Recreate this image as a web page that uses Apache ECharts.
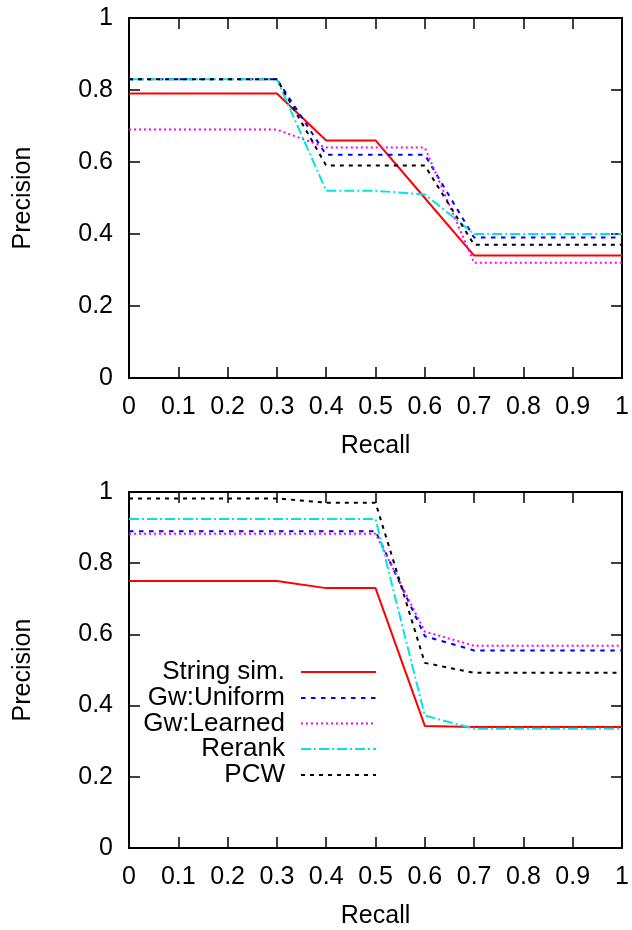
<!DOCTYPE html>
<html>
<head>
<meta charset="utf-8">
<script src="https://cdn.jsdelivr.net/npm/echarts@6/dist/echarts.min.js"></script>
<style>
  html, body { margin: 0; padding: 0; background: #fff; }
  #chart { width: 632px; height: 930px; }
</style>
</head>
<body>
<div id="chart"></div>
<script>
// Recall values shared by both panels
const recall = [0, 0.1, 0.2, 0.3, 0.4, 0.5, 0.6, 0.7, 0.8, 0.9, 1];

// Upper panel precision values
const stringSimTop = [0.79, 0.79, 0.79, 0.79, 0.66, 0.66, 0.50, 0.34, 0.34, 0.34, 0.34];
const gwUniformTop = [0.83, 0.83, 0.83, 0.83, 0.62, 0.62, 0.62, 0.39, 0.39, 0.39, 0.39];
const gwLearnedTop = [0.69, 0.69, 0.69, 0.69, 0.64, 0.64, 0.64, 0.32, 0.32, 0.32, 0.32];
const rerankTop    = [0.83, 0.83, 0.83, 0.83, 0.52, 0.52, 0.51, 0.40, 0.40, 0.40, 0.40];
const pcwTop       = [0.83, 0.83, 0.83, 0.83, 0.59, 0.59, 0.59, 0.37, 0.37, 0.37, 0.37];

// Lower panel precision values
const stringSimBottom = [0.75, 0.75, 0.75, 0.75, 0.73, 0.73, 0.343, 0.34, 0.34, 0.34, 0.34];
const gwUniformBottom = [0.89, 0.89, 0.89, 0.89, 0.89, 0.89, 0.595, 0.555, 0.555, 0.555, 0.555];
const gwLearnedBottom = [0.883, 0.883, 0.883, 0.883, 0.883, 0.883, 0.608, 0.568, 0.568, 0.568, 0.568];
const rerankBottom    = [0.924, 0.924, 0.924, 0.924, 0.924, 0.924, 0.372, 0.335, 0.335, 0.335, 0.335];
const pcwBottom       = [0.982, 0.982, 0.982, 0.982, 0.97, 0.97, 0.52, 0.492, 0.492, 0.492, 0.492];

const seriesNames = ['String sim.', 'Gw:Uniform', 'Gw:Learned', 'Rerank', 'PCW'];

const FONT = 'Liberation Sans, Arial, Helvetica, sans-serif';
const FS = 25;

const styles = [
  { color: '#ff0000', width: 2, type: 'solid' },
  { color: '#0000ff', width: 2, type: [4.5, 5.5] },
  { color: '#ff00ff', width: 2, type: [2, 3] },
  { color: '#00e5e5', width: 2, type: [10, 3, 2, 3] },
  { color: '#000000', width: 2, type: [4, 5] }
];

const grids = [
  { left: 129, top: 18, width: 494, height: 360 },
  { left: 129, top: 492, width: 494, height: 359 }
];

function pairs(ys) { return recall.map((x, i) => [x, ys[i]]); }

const tick = { show: true, inside: true, length: 11, lineStyle: { color: '#000', width: 1.5 } };
const line = { show: true, onZero: false, lineStyle: { color: '#000', width: 2 } };

const xAxes = [];
const yAxes = [];
grids.forEach((g, gi) => {
  xAxes.push({
    type: 'value', gridIndex: gi, position: 'bottom', min: 0, max: 1, interval: 0.1,
    name: 'Recall', nameLocation: 'middle', nameGap: 56,
    nameTextStyle: { fontFamily: FONT, fontSize: FS, color: '#000' },
    axisLine: line, axisTick: tick, splitLine: { show: false },
    axisLabel: { fontFamily: FONT, fontSize: FS, color: '#000', margin: 17 }
  });
  xAxes.push({
    type: 'value', gridIndex: gi, position: 'top', min: 0, max: 1, interval: 0.1,
    axisLine: line, axisTick: tick, splitLine: { show: false }, axisLabel: { show: false }
  });
  yAxes.push({
    type: 'value', gridIndex: gi, position: 'left', min: 0, max: 1, interval: 0.2,
    name: 'Precision', nameLocation: 'middle', nameGap: 93, nameRotate: 90,
    nameTextStyle: { fontFamily: FONT, fontSize: FS, color: '#000' },
    axisLine: line, axisTick: tick, splitLine: { show: false },
    axisLabel: { fontFamily: FONT, fontSize: FS, color: '#000', margin: 16 }
  });
  yAxes.push({
    type: 'value', gridIndex: gi, position: 'right', min: 0, max: 1, interval: 0.2,
    axisLine: line, axisTick: tick, splitLine: { show: false }, axisLabel: { show: false }
  });
});

const topData = [stringSimTop, gwUniformTop, gwLearnedTop, rerankTop, pcwTop];
const bottomData = [stringSimBottom, gwUniformBottom, gwLearnedBottom, rerankBottom, pcwBottom];

const series = [];
[topData, bottomData].forEach((set, gi) => {
  set.forEach((ys, si) => {
    series.push({
      type: 'line', name: seriesNames[si],
      xAxisIndex: gi * 2, yAxisIndex: gi * 2,
      data: pairs(ys), symbol: 'none', silent: true, animation: false,
      lineStyle: { color: styles[si].color, width: styles[si].width, type: styles[si].type, cap: 'butt' },
      itemStyle: { color: styles[si].color },
      z: 2 + si
    });
  });
});

// One legend per entry so the samples line up on the right and the names are right-aligned
const legendCenters = [672, 698, 723.5, 749, 775];
const legends = seriesNames.map((name, i) => ({
  data: [name], orient: 'vertical', align: 'right', right: 255,
  top: legendCenters[i] - 13, padding: 0,
  itemWidth: 75, itemHeight: 14, selectedMode: false,
  itemStyle: { opacity: 0 },
  textStyle: { fontFamily: FONT, fontSize: 26, color: '#000', padding: [0, 11, 0, 0] }
}));

const chart = echarts.init(document.getElementById('chart'), null, { renderer: 'canvas' });
chart.setOption({
  backgroundColor: '#fff',
  animation: false,
  grid: grids,
  xAxis: xAxes,
  yAxis: yAxes,
  legend: legends,
  series: series
});
</script>
</body>
</html>
